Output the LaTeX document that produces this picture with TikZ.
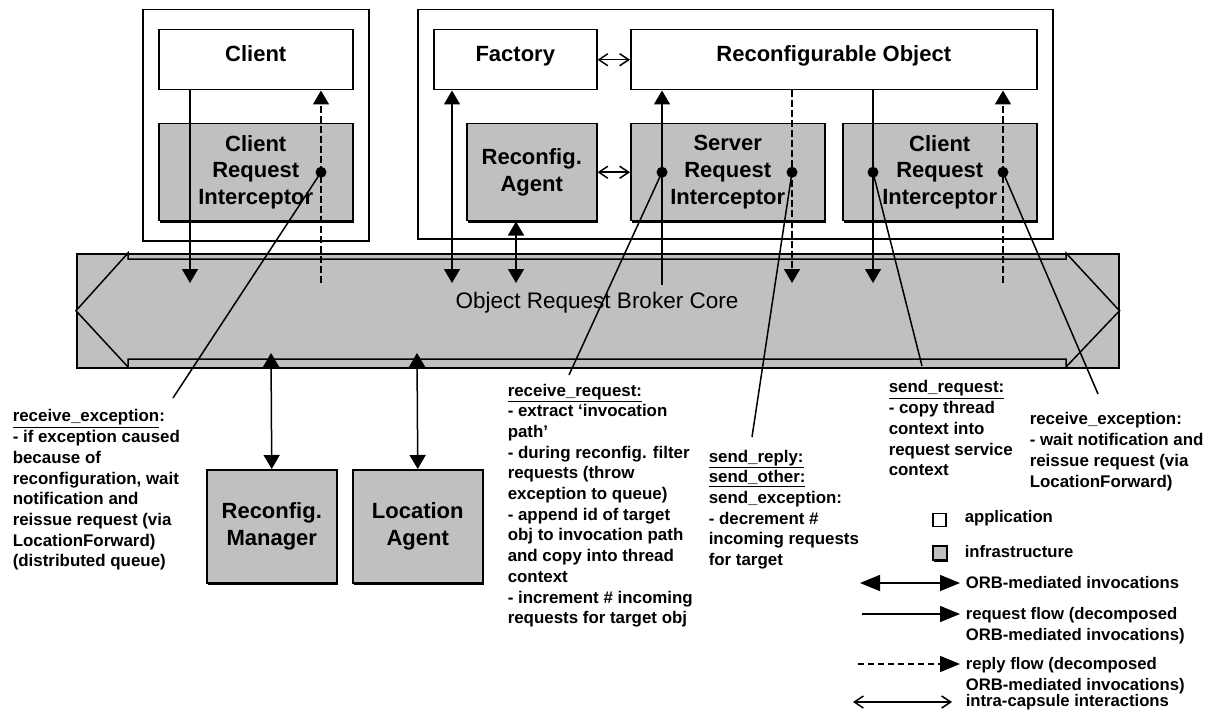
\documentclass[tikz,border=0pt]{standalone}
\usepackage{fontspec}
\setmainfont{Liberation Sans}
\usetikzlibrary{arrows.meta,shadows}
\definecolor{infragray}{RGB}{192,192,192}

\begin{document}
\begin{tikzpicture}[x=1pt,y=-1pt,line width=1.5pt,
        capsule/.style={draw,anchor=north west,inner sep=0pt},
        appbox/.style={draw,fill=white,anchor=north west,inner sep=0pt,
            font=\bfseries\fontsize{22}{26.7}\selectfont,text height=16pt,text depth=12pt},
        infrabox/.style={draw,fill=infragray,anchor=north west,inner sep=0pt,align=center,
            font=\bfseries\fontsize{22}{26.7}\selectfont,
            drop shadow={shadow xshift=1pt,shadow yshift=-1.8pt,opacity=1,fill=black}},
        note/.style={anchor=north west,inner sep=0pt,align=left,
            font=\bfseries\fontsize{16.9}{20.7}\selectfont},
        legtext/.style={anchor=west,inner sep=0pt,align=left,
            font=\bfseries\fontsize{16.7}{20.7}\selectfont},
        orbarr/.style={{Triangle[length=14pt,width=16pt]}-{Triangle[length=14pt,width=16pt]}},
        reqarr/.style={-{Triangle[length=14pt,width=16pt]}},
        reparr/.style={-{Triangle[length=14pt,width=16pt]},dash pattern=on 7pt off 3pt},
        intarr/.style={{Straight Barb[length=9pt,width=12pt]}-{Straight Barb[length=9pt,width=12pt]}},
        hook/.style={fill,circle,inner sep=0pt,minimum size=11pt}]

        \useasboundingbox (0,0) rectangle (1215,722);

        \node[capsule,minimum width=226pt,minimum height=231pt] (capL) at (142,9) {};
        \node[capsule,minimum width=635pt,minimum height=229pt] (capR) at (417,9) {};

        \node[appbox,minimum width=194pt,minimum height=60pt] (client) at (158,29) {Client};
        \node[infrabox,minimum width=194pt,minimum height=97pt] (cri) at (158,123)
            {Client\\Request\\Interceptor};
        \node[appbox,minimum width=163pt,minimum height=60pt] (factory) at (433,29) {Factory};
        \node[appbox,minimum width=406pt,minimum height=60pt] (recobj) at (630,29)
            {Reconfigurable Object};
        \node[infrabox,minimum width=130pt,minimum height=97pt] (ragent) at (466,123)
            {Reconfig.\\Agent};
        \node[infrabox,minimum width=194pt,minimum height=97pt] (sri) at (630,123)
            {Server\\Request\\Interceptor};
        \node[infrabox,minimum width=194pt,minimum height=97pt] (cri2) at (842,123)
            {Client\\Request\\Interceptor};

        \node[draw,fill=infragray,anchor=north west,inner sep=0pt,
            minimum width=1042pt,minimum height=114pt] (orb) at (76,253) {};
        \draw[fill=infragray] (orb.west) -- (128,253) -- (128,259) -- (1066,259) -- (1066,253)
            -- (orb.east) -- (1066,367) -- (1066,359) -- (128,359) -- (128,367) -- cycle;
        \node[font=\fontsize{22.5}{27}\selectfont] (orblbl) at (597,303)
            {Object Request Broker Core};

        \node[infrabox,minimum width=130pt,minimum height=113pt] (rmgr) at (206,469)
            {Reconfig.\\Manager};
        \node[infrabox,minimum width=130pt,minimum height=113pt] (locag) at (352,469)
            {Location\\Agent};

        \coordinate (pL1) at (190,283);
        \coordinate (pL2) at (321,283);
        \coordinate (pF) at (452,283);
        \coordinate (pA) at (516,283);
        \coordinate (pS1) at (662,285);
        \coordinate (pS2) at (792,283);
        \coordinate (pC1) at (873,283);
        \coordinate (pC2) at (1003,283);
        \coordinate (pB1) at (271,353);
        \coordinate (pB2) at (417,353);

        \draw[intarr] (factory.east) -- (recobj.west);
        \draw[intarr] (ragent.east) -- (sri.west);

        \draw[reqarr] (client.south -| pL1) -- (pL1);
        \draw[reparr] (pL2) -- (client.south -| pL2);
        \draw[orbarr] (factory.south -| pF) -- (pF);
        \draw[orbarr] (ragent.south -| pA) -- (pA);
        \draw[reqarr] (pS1) -- (recobj.south -| pS1);
        \draw[reparr] (recobj.south -| pS2) -- (pS2);
        \draw[reqarr] (recobj.south -| pC1) -- (pC1);
        \draw[reparr] (pC2) -- (recobj.south -| pC2);
        \draw[orbarr] (rmgr.north) -- (pB1);
        \draw[orbarr] (locag.north) -- (pB2);

        \node[hook] (dL) at (cri.center -| pL2) {};
        \node[hook] (dS1) at (sri.center -| pS1) {};
        \node[hook] (dS2) at (sri.center -| pS2) {};
        \node[hook] (dC1) at (cri2.center -| pC1) {};
        \node[hook] (dC2) at (cri2.center -| pC2) {};

        \node[note] (nL) at (12,409)
            {\underline{receive\_exception}:\\- if exception caused\\because of\\
             reconfiguration, wait\\notification and\\reissue request (via\\
             LocationForward)\\(distributed queue)};
        \node[note] (nRR) at (507,383)
            {\underline{receive\_request:}\\- extract ‘invocation\\path’\\
             - during reconfig. filter\\requests (throw\\exception to queue)\\
             - append id of target\\obj to invocation path\\and copy into thread\\
             context\\- increment \# incoming\\requests for target obj};
        \node[note] (nSR) at (708,449)
            {\underline{send\_reply:}\\\underline{send\_other:}\\send\_exception:\\
             - decrement \#\\incoming requests\\for target};
        \node[note] (nSQ) at (888,380)
            {\underline{send\_request:}\\- copy thread\\context into\\request service\\context};
        \node[note] (nRE) at (1029,412)
            {receive\_exception:\\- wait notification and\\reissue request (via\\LocationForward)};

        \coordinate (eL) at (173,398);
        \coordinate (eRR) at (569,375);
        \coordinate (eSR) at (752,437);
        \coordinate (eSQ) at (922,366);
        \coordinate (eRE) at (1098,394);

        \draw (dL.center) -- (eL);
        \draw (dS1.center) -- (eRR);
        \draw (dS2.center) -- (eSR);
        \draw (dC1.center) -- (eSQ);
        \draw (dC2.center) -- (eRE);

        \node[draw,fill=white,inner sep=0pt,minimum size=13pt] (lgapp) at (939.5,520) {};
        \node[legtext] (tapp) at (964,518) {application};
        \node[draw,fill=infragray,inner sep=0pt,minimum size=14pt,
            drop shadow={shadow xshift=1pt,shadow yshift=-1.8pt,opacity=1,fill=black}]
            (lginf) at (940,553) {};
        \node[legtext] (tinf) at (964,552) {infrastructure};

        \coordinate (lgA) at (860,583);
        \coordinate (lgB) at (862,614);
        \coordinate (lgC) at (858,664);
        \coordinate (lgD) at (853,702);

        \draw[{Triangle[length=20pt,width=16pt]}-{Triangle[length=20pt,width=16pt]}]
            (lgA) -- ++(100,0);
        \draw[-{Triangle[length=20pt,width=16pt]}] (lgB) -- ++(98,0);
        \draw[-{Triangle[length=20pt,width=16pt]},dash pattern=on 6pt off 4pt] (lgC) -- ++(102,0);
        \draw[intarr] (lgD) -- ++(99,0);

        \node[legtext] (torb) at (965,583) {ORB-mediated invocations};
        \node[legtext,anchor=north west] (treq) at (965,607)
            {request flow (decomposed\\ORB-mediated invocations)};
        \node[legtext,anchor=north west] (trep) at (965,657)
            {reply flow (decomposed\\ORB-mediated invocations)};
        \node[legtext] (tint) at (965,702) {intra-capsule interactions};
    \end{tikzpicture}
\end{document}
